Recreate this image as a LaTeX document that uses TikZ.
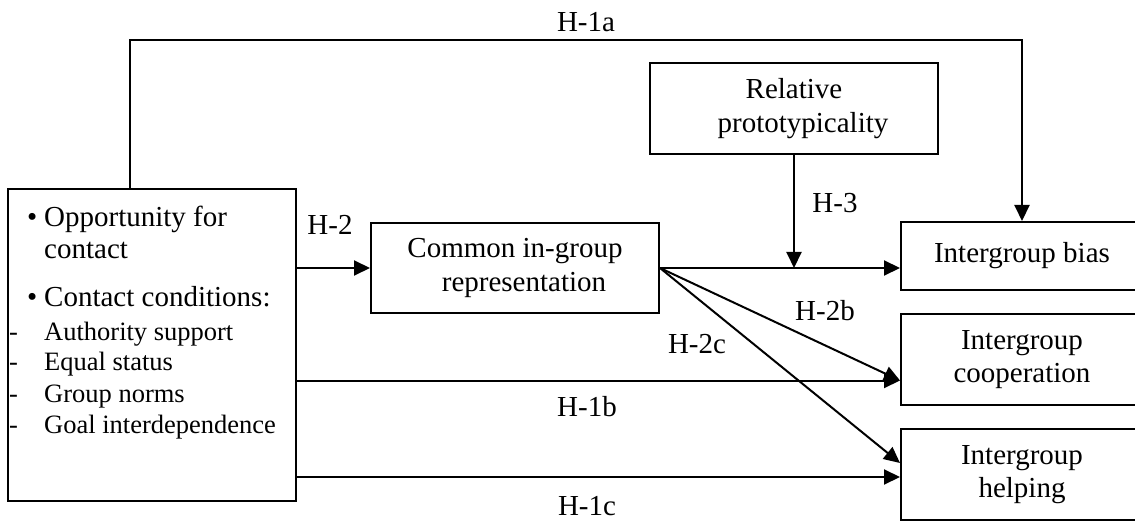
\documentclass[tikz,border=0pt]{standalone}
\usepackage{fontspec}
\setmainfont{Liberation Serif}
\usetikzlibrary{arrows.meta}
\begin{document}
\begin{tikzpicture}[x=1pt,y=-1pt,
  font=\fontsize{29}{33.5}\selectfont,
  box/.style={draw, line width=2pt, inner sep=0pt, align=center},
  conn/.style={line width=2pt, -{Triangle[length=16pt,width=15pt]}},
  lab/.style={anchor=base, inner sep=0pt},
  item/.style={anchor=base west, inner sep=0pt},
  subitem/.style={anchor=base west, inner sep=0pt, font=\fontsize{26.5}{30}\selectfont}]
\useasboundingbox (0,0) rectangle (1135,521);
\clip (0,0) rectangle (1135,521);
\fill[white] (0,0) rectangle (1135,521);
% boxes
\node[box, minimum width=288pt, minimum height=312pt] (L) at (152,345) {};
\node[box, minimum width=288pt, minimum height=90pt] (C) at (515,268) {Common in-group\\\hspace*{18pt}representation};
\node[box, minimum width=288pt, minimum height=91pt] (R) at (794,108.5) {Relative\\\hspace*{18pt}prototypicality};
\node[box, minimum width=242pt, minimum height=68pt] (B) at (1022,256) {Intergroup bias};
\node[box, minimum width=242pt, minimum height=91pt] (Co) at (1022,359.5) {Intergroup\\cooperation};
\node[box, minimum width=242pt, minimum height=91pt] (He) at (1022,474.5) {Intergroup\\helping};
% left box text
\node[item] (l1) at (27,227) {\makebox[17pt][l]{•}Opportunity for};
\node[item] (l2) at (44,259) {contact};
\node[item] (l3) at (27,307) {\makebox[17pt][l]{•}Contact conditions:};
\node[subitem] (l4) at (9,340) {\makebox[35pt][l]{-}Authority support};
\node[subitem] (l5) at (9,370) {\makebox[35pt][l]{-}Equal status};
\node[subitem] (l6) at (9,402) {\makebox[35pt][l]{-}Group norms};
\node[subitem] (l7) at (9,433) {\makebox[35pt][l]{-}Goal interdependence};
% connectors
\coordinate (top) at (130,40);
\draw[conn] (top |- L.north) -- (top) -| (B.north);
\draw[conn] (L.east |- C.west) -- (C.west);
\draw[conn] (C.east) -- (C.east -| B.west);
\draw[conn] (R.south) -- (R.south |- C.east);
\coordinate (coIn) at ([yshift=-21pt]Co.west);
\coordinate (heInA) at ([yshift=11.5pt]He.west);
\coordinate (heInB) at ([yshift=-2.5pt]He.west);
\draw[conn] (C.east) -- (coIn);
\draw[conn] (L.east |- coIn) -- (coIn);
\draw[conn] (C.east) -- (heInA);
\draw[conn] (L.east |- heInB) -- (heInB);
% labels
\node[lab] (h1a) at (586,32) {H-1a};
\node[lab] (h2) at (330,235) {H-2};
\node[lab] (h3) at (835,213) {H-3};
\node[lab] (h2b) at (825,320) {H-2b};
\node[lab] (h2c) at (697,353) {H-2c};
\node[lab] (h1b) at (587,416) {H-1b};
\node[lab] (h1c) at (587,515) {H-1c};
\end{tikzpicture}
\end{document}
